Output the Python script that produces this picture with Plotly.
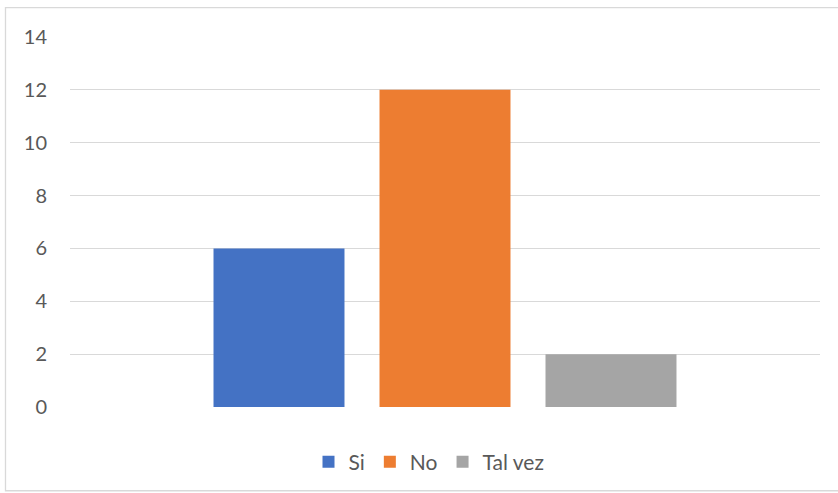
import plotly.graph_objects as go

# Survey answers and counts
categories = ["Si", "No", "Tal vez"]
counts = [6, 12, 2]
colors = ["#4472C4", "#ED7D31", "#A5A5A5"]
y_ticks = [0, 2, 4, 6, 8, 10, 12, 14]

W, H = 838, 493
L, R, T, B = 70, 18, 37, 85
plot_w = W - L - R
plot_h = H - T - B

def px_x(px):
    return (px - L) / plot_w

def px_y(py):
    return (H - B - py) / plot_h

fig = go.Figure()
for name, val, col in zip(categories, counts, colors):
    fig.add_trace(go.Bar(
        x=[""], y=[val], name=name,
        marker=dict(color=col, line=dict(width=0)),
    ))

fig.update_layout(
    width=W, height=H,
    margin=dict(l=L, r=R, t=T, b=B, pad=0),
    paper_bgcolor="white", plot_bgcolor="white",
    barmode="group", bargap=0.336, bargroupgap=0.211,
    font=dict(family="Lato, Liberation Sans, sans-serif", size=20, color="#595959"),
    showlegend=True,
    legend=dict(
        orientation="h", x=px_x(429), xanchor="center",
        y=px_y(462), yanchor="middle",
        font=dict(size=21, color="#595959"),
        itemwidth=30, traceorder="normal",
    ),
    xaxis=dict(showticklabels=False, showgrid=False, zeroline=False,
               showline=False, ticks=""),
    yaxis=dict(range=[0, 14], tickvals=y_ticks, showgrid=True,
               gridcolor="#D9D9D9", gridwidth=1, zeroline=False,
               showline=False, ticks="", ticklabelstandoff=22),
    shapes=[dict(type="rect", xref="paper", yref="paper",
                 x0=px_x(5.5), x1=px_x(845), y0=px_y(492), y1=px_y(7.5),
                 line=dict(color="#D9D9D9", width=1.3), fillcolor="rgba(0,0,0,0)",
                 layer="below")],
)

fig.write_html("out.html")
